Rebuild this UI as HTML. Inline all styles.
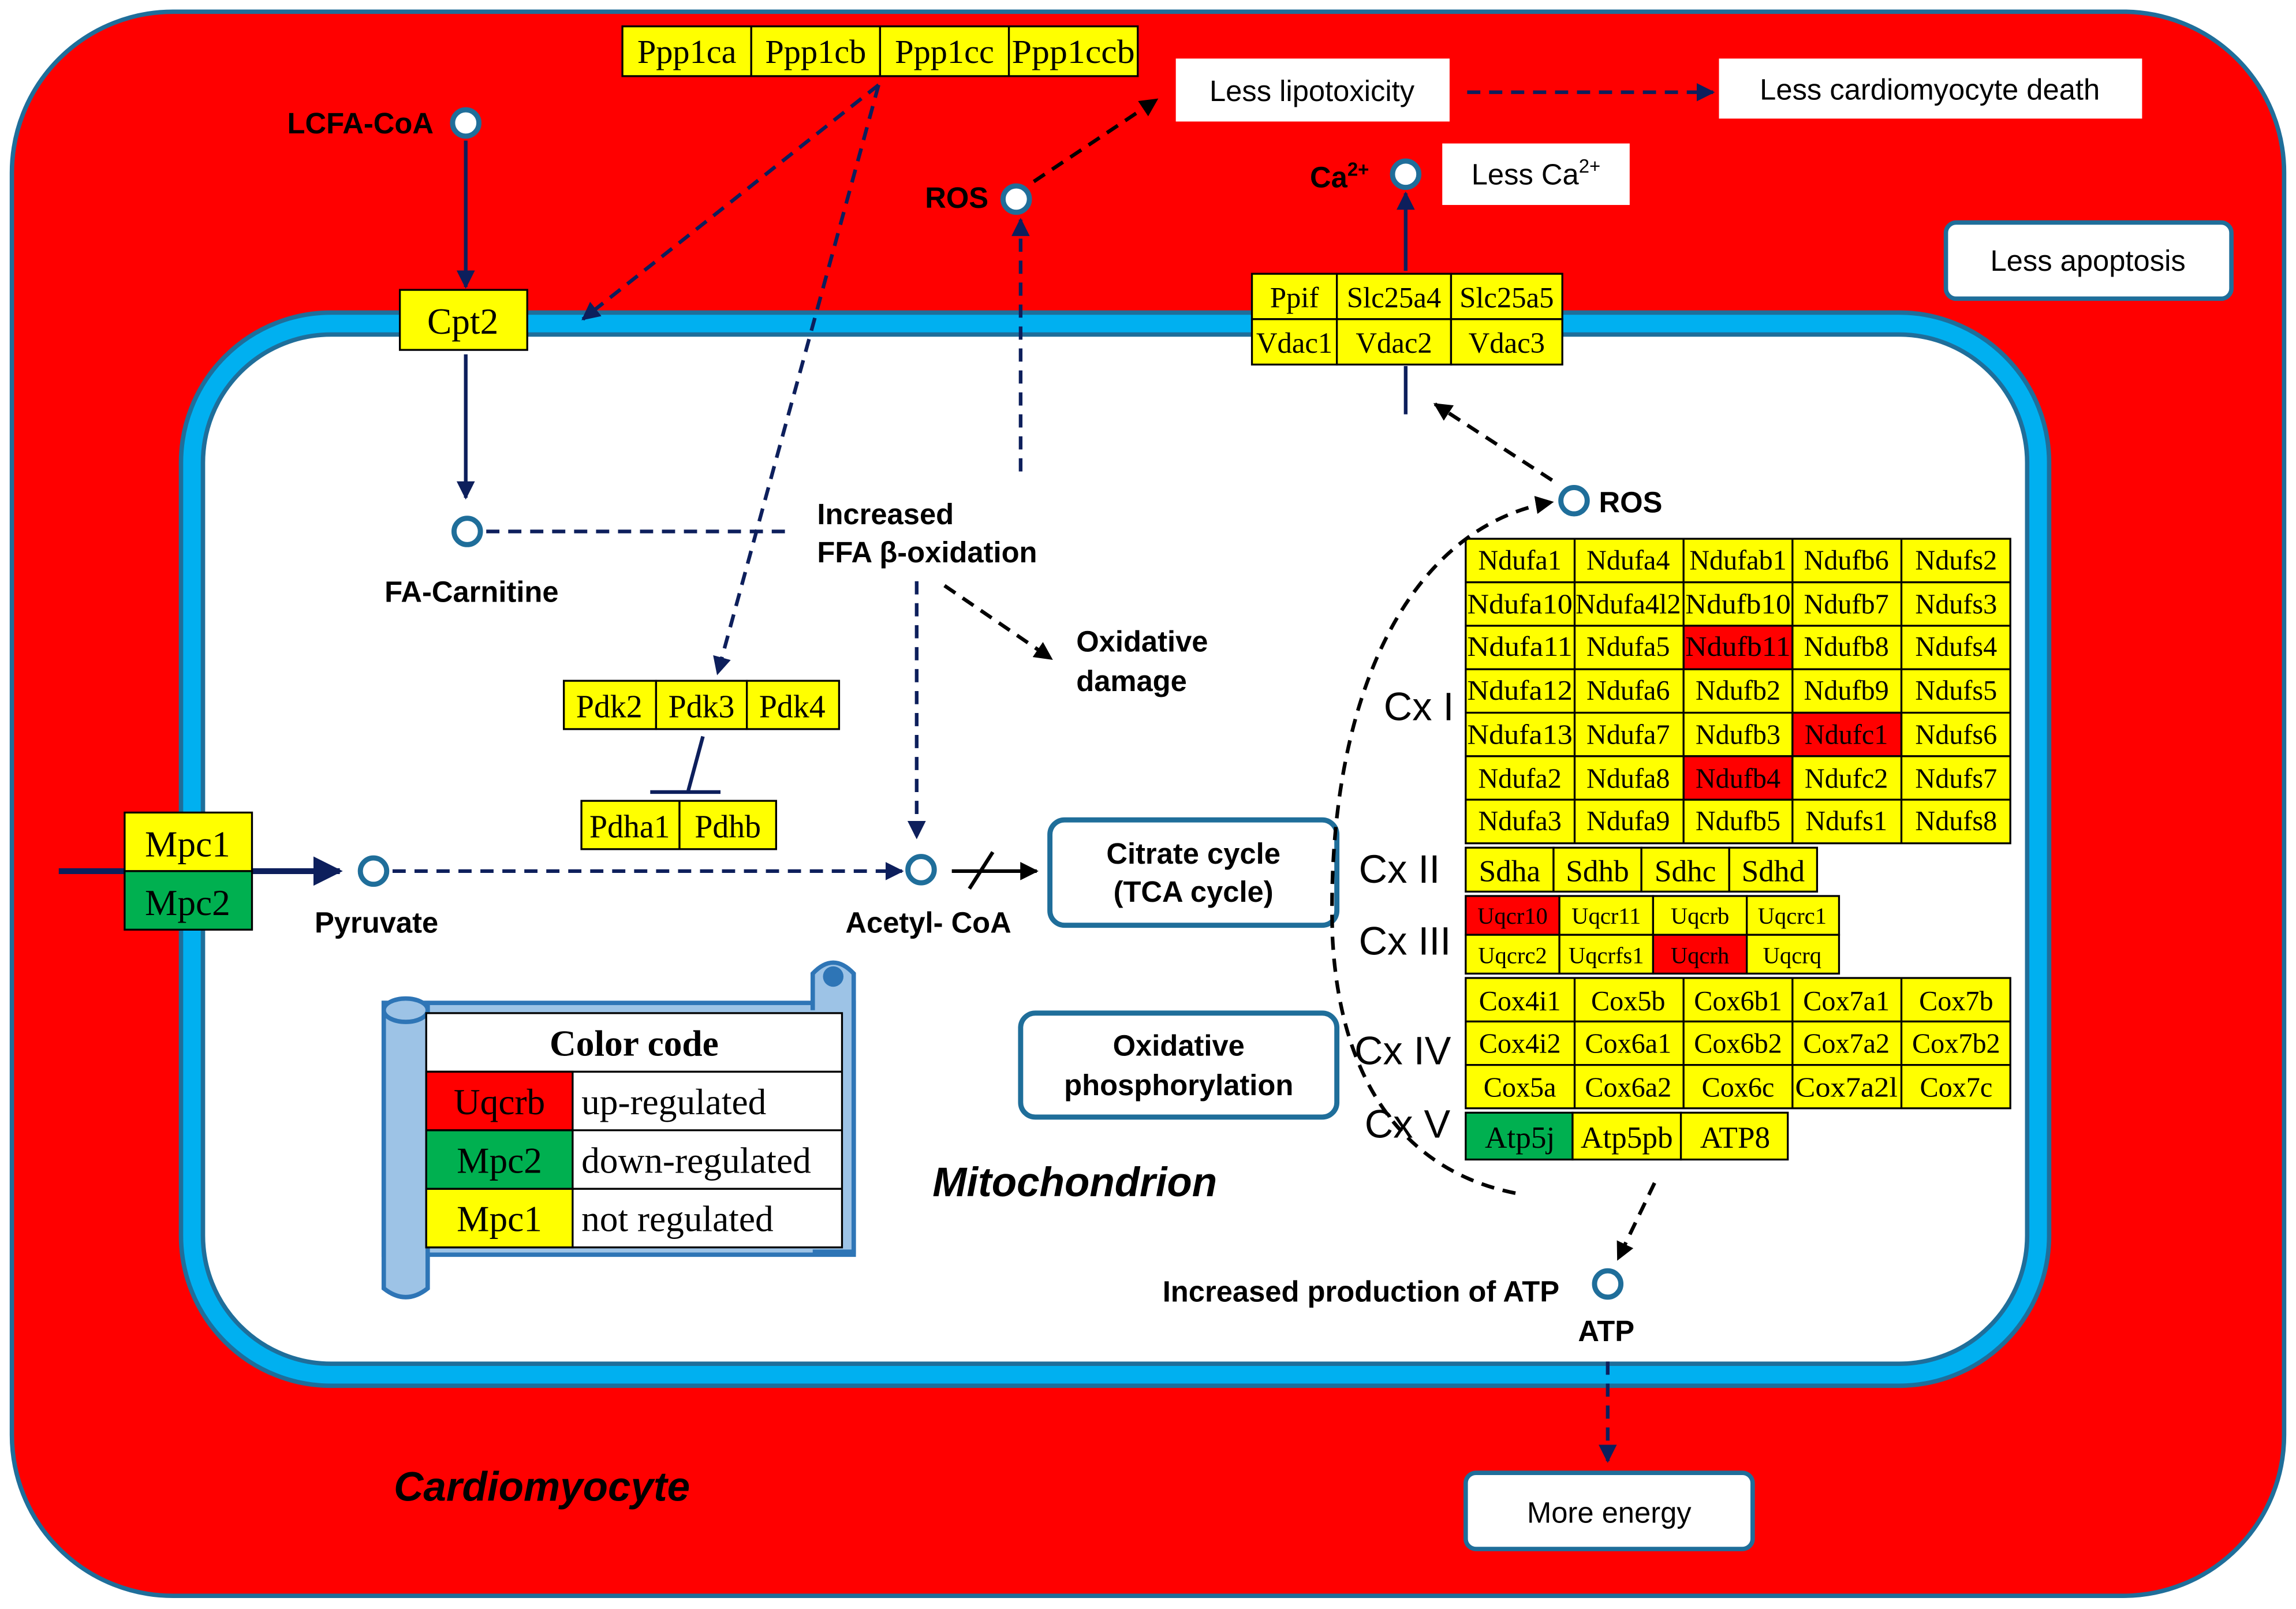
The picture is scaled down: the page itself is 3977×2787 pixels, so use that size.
<!DOCTYPE html>
<html><head><meta charset="utf-8"><style>
html,body{margin:0;padding:0;background:#fff}
svg{display:block}
.g{font-family:"Liberation Serif",serif;fill:#000;text-anchor:middle}
.s{font-family:"Liberation Sans",sans-serif;font-weight:bold;fill:#000}
.n{font-family:"Liberation Sans",sans-serif;fill:#000}
.y{fill:#FFFF00;stroke:#000;stroke-width:1.3}
.r{fill:#FF0000;stroke:#000;stroke-width:1.3}
.gr{fill:#00B050;stroke:#000;stroke-width:1.3}
.c{fill:#fff;stroke:#1F6E9A;stroke-width:3.5}
.d{stroke:#0D1F5C;stroke-width:2.5;stroke-dasharray:9,6;fill:none}
.k{stroke:#000;stroke-width:2.5;stroke-dasharray:9,6;fill:none}
</style></head><body>
<svg width="3977" height="2787" viewBox="0 0 1568 1099" xmlns="http://www.w3.org/2000/svg">
<defs>
<marker id="an" viewBox="0 0 10 10" refX="9" refY="5" markerWidth="5" markerHeight="5" orient="auto-start-reverse"><path d="M0,0L10,5L0,10z" fill="#0D1F5C"/></marker>
<marker id="ak" viewBox="0 0 10 10" refX="9" refY="5" markerWidth="5" markerHeight="5" orient="auto-start-reverse"><path d="M0,0L10,5L0,10z" fill="#000"/></marker>
</defs>
<rect width="1568" height="1099" fill="#fff"/>
<rect x="8" y="8" width="1552" height="1082" rx="110" fill="#FF0000" stroke="#1F6E9A" stroke-width="3"/>
<rect x="131" y="221" width="1261" height="718" rx="95" fill="#fff" stroke="#1F6E9A" stroke-width="18"/>
<rect x="131" y="221" width="1261" height="718" rx="95" fill="none" stroke="#00B0F0" stroke-width="12"/>

<!-- Ppp1 -->
<rect class="y" x="425" y="18" width="88" height="34"/><rect class="y" x="513" y="18" width="88" height="34"/><rect class="y" x="601" y="18" width="88" height="34"/><rect class="y" x="689" y="18" width="88" height="34"/>
<g class="g" font-size="23"><text x="469" y="43">Ppp1ca</text><text x="557" y="43">Ppp1cb</text><text x="645" y="43">Ppp1cc</text><text x="733" y="43" textLength="84" lengthAdjust="spacingAndGlyphs">Ppp1ccb</text></g>

<!-- Cpt2 -->
<rect class="y" x="273" y="198" width="87" height="41"/><text class="g" x="316" y="228" font-size="25">Cpt2</text>

<!-- Ppif -->
<rect class="y" x="855" y="187" width="58" height="31"/><rect class="y" x="913" y="187" width="78" height="31"/><rect class="y" x="991" y="187" width="76" height="31"/>
<rect class="y" x="855" y="218" width="58" height="31"/><rect class="y" x="913" y="218" width="78" height="31"/><rect class="y" x="991" y="218" width="76" height="31"/>
<g class="g" font-size="20"><text x="884" y="210">Ppif</text><text x="952" y="210">Slc25a4</text><text x="1029" y="210">Slc25a5</text><text x="884" y="241">Vdac1</text><text x="952" y="241">Vdac2</text><text x="1029" y="241">Vdac3</text></g>

<!-- Pdk -->
<rect class="y" x="385" y="465" width="63" height="33"/><rect class="y" x="448" y="465" width="62" height="33"/><rect class="y" x="510" y="465" width="63" height="33"/>
<g class="g" font-size="22"><text x="416" y="490">Pdk2</text><text x="479" y="490">Pdk3</text><text x="541" y="490">Pdk4</text></g>
<rect class="y" x="397" y="547" width="67" height="33"/><rect class="y" x="464" y="547" width="66" height="33"/>
<g class="g" font-size="22"><text x="430" y="572">Pdha1</text><text x="497" y="572">Pdhb</text></g>
<line x1="480" y1="503" x2="470" y2="540" stroke="#0D1F5C" stroke-width="2.5"/><line x1="444" y1="541" x2="492" y2="541" stroke="#0D1F5C" stroke-width="2.5"/>

<!-- Mpc -->
<line x1="40" y1="595" x2="232" y2="595" stroke="#0D1F5C" stroke-width="4" marker-end="url(#an)"/>
<rect class="y" x="85" y="555" width="87" height="40"/><rect class="gr" x="85" y="595" width="87" height="40"/>
<g class="g" font-size="25"><text x="128" y="585">Mpc1</text><text x="128" y="625">Mpc2</text></g>

<!-- Complex I -->
<g>
<rect class="y" x="1001" y="368" width="372" height="208"/>
<rect class="r" x="1149.8" y="427.4" width="74.4" height="29.7"/>
<rect class="r" x="1224.2" y="486.8" width="74.4" height="29.7"/>
<rect class="r" x="1149.8" y="516.5" width="74.4" height="29.7"/>
<g stroke="#000" stroke-width="1.3">
<line x1="1075.4" y1="368" x2="1075.4" y2="576"/><line x1="1149.8" y1="368" x2="1149.8" y2="576"/><line x1="1224.2" y1="368" x2="1224.2" y2="576"/><line x1="1298.6" y1="368" x2="1298.6" y2="576"/>
<line x1="1001" y1="397.7" x2="1373" y2="397.7"/><line x1="1001" y1="427.4" x2="1373" y2="427.4"/><line x1="1001" y1="457.1" x2="1373" y2="457.1"/><line x1="1001" y1="486.8" x2="1373" y2="486.8"/><line x1="1001" y1="516.5" x2="1373" y2="516.5"/><line x1="1001" y1="546.2" x2="1373" y2="546.2"/>
</g>
<g class="g" font-size="19">
<text x="1038" y="389">Ndufa1</text><text x="1112" y="389">Ndufa4</text><text x="1187" y="389">Ndufab1</text><text x="1261" y="389">Ndufb6</text><text x="1336" y="389">Ndufs2</text>
<text x="1038" y="419" textLength="72" lengthAdjust="spacingAndGlyphs">Ndufa10</text><text x="1112" y="419" textLength="72" lengthAdjust="spacingAndGlyphs">Ndufa4l2</text><text x="1187" y="419" textLength="72" lengthAdjust="spacingAndGlyphs">Ndufb10</text><text x="1261" y="419">Ndufb7</text><text x="1336" y="419">Ndufs3</text>
<text x="1038" y="448" textLength="72" lengthAdjust="spacingAndGlyphs">Ndufa11</text><text x="1112" y="448">Ndufa5</text><text x="1187" y="448" textLength="72" lengthAdjust="spacingAndGlyphs">Ndufb11</text><text x="1261" y="448">Ndufb8</text><text x="1336" y="448">Ndufs4</text>
<text x="1038" y="478" textLength="72" lengthAdjust="spacingAndGlyphs">Ndufa12</text><text x="1112" y="478">Ndufa6</text><text x="1187" y="478">Ndufb2</text><text x="1261" y="478">Ndufb9</text><text x="1336" y="478">Ndufs5</text>
<text x="1038" y="508" textLength="72" lengthAdjust="spacingAndGlyphs">Ndufa13</text><text x="1112" y="508">Ndufa7</text><text x="1187" y="508">Ndufb3</text><text x="1261" y="508">Ndufc1</text><text x="1336" y="508">Ndufs6</text>
<text x="1038" y="538">Ndufa2</text><text x="1112" y="538">Ndufa8</text><text x="1187" y="538">Ndufb4</text><text x="1261" y="538">Ndufc2</text><text x="1336" y="538">Ndufs7</text>
<text x="1038" y="567">Ndufa3</text><text x="1112" y="567">Ndufa9</text><text x="1187" y="567">Ndufb5</text><text x="1261" y="567">Ndufs1</text><text x="1336" y="567">Ndufs8</text>
</g>
</g>

<!-- Complex II -->
<rect class="y" x="1001" y="579" width="60" height="30"/><rect class="y" x="1061" y="579" width="60" height="30"/><rect class="y" x="1121" y="579" width="60" height="30"/><rect class="y" x="1181" y="579" width="60" height="30"/>
<g class="g" font-size="21"><text x="1031" y="602">Sdha</text><text x="1091" y="602">Sdhb</text><text x="1151" y="602">Sdhc</text><text x="1211" y="602">Sdhd</text></g>

<!-- Complex III -->
<rect class="r" x="1001" y="612" width="64" height="26.5"/><rect class="y" x="1065" y="612" width="64" height="26.5"/><rect class="y" x="1129" y="612" width="64" height="26.5"/><rect class="y" x="1193" y="612" width="63" height="26.5"/>
<rect class="y" x="1001" y="638.5" width="64" height="26.5"/><rect class="y" x="1065" y="638.5" width="64" height="26.5"/><rect class="r" x="1129" y="638.5" width="64" height="26.5"/><rect class="y" x="1193" y="638.5" width="63" height="26.5"/>
<g class="g" font-size="16"><text x="1033" y="631">Uqcr10</text><text x="1097" y="631">Uqcr11</text><text x="1161" y="631">Uqcrb</text><text x="1224" y="631">Uqcrc1</text>
<text x="1033" y="658">Uqcrc2</text><text x="1097" y="658">Uqcrfs1</text><text x="1161" y="658">Uqcrh</text><text x="1224" y="658">Uqcrq</text></g>

<!-- Complex IV -->
<rect class="y" x="1001" y="668" width="372" height="89"/>
<g stroke="#000" stroke-width="1.3">
<line x1="1075.4" y1="668" x2="1075.4" y2="757"/><line x1="1149.8" y1="668" x2="1149.8" y2="757"/><line x1="1224.2" y1="668" x2="1224.2" y2="757"/><line x1="1298.6" y1="668" x2="1298.6" y2="757"/>
<line x1="1001" y1="697.7" x2="1373" y2="697.7"/><line x1="1001" y1="727.4" x2="1373" y2="727.4"/></g>
<g class="g" font-size="19">
<text x="1038" y="690">Cox4i1</text><text x="1112" y="690">Cox5b</text><text x="1187" y="690">Cox6b1</text><text x="1261" y="690">Cox7a1</text><text x="1336" y="690">Cox7b</text>
<text x="1038" y="719">Cox4i2</text><text x="1112" y="719">Cox6a1</text><text x="1187" y="719">Cox6b2</text><text x="1261" y="719">Cox7a2</text><text x="1336" y="719">Cox7b2</text>
<text x="1038" y="749">Cox5a</text><text x="1112" y="749">Cox6a2</text><text x="1187" y="749">Cox6c</text><text x="1261" y="749" textLength="70" lengthAdjust="spacingAndGlyphs">Cox7a2l</text><text x="1336" y="749">Cox7c</text></g>

<!-- Complex V -->
<rect class="gr" x="1001" y="760" width="73" height="32"/><rect class="y" x="1074" y="760" width="74" height="32"/><rect class="y" x="1148" y="760" width="73" height="32"/>
<g class="g" font-size="21"><text x="1038" y="784">Atp5j</text><text x="1111" y="784">Atp5pb</text><text x="1185" y="784">ATP8</text></g>

<g class="n" font-size="27"><text x="945" y="492">Cx I</text><text x="928" y="603">Cx II</text><text x="928" y="652">Cx III</text><text x="925" y="727">Cx IV</text><text x="932" y="777">Cx V</text></g>

<!-- white boxes -->
<rect x="803" y="40" width="187" height="43" fill="#fff"/><text class="n" x="896" y="69" font-size="20" text-anchor="middle">Less lipotoxicity</text>
<rect x="1174" y="40" width="289" height="41" fill="#fff"/><text class="n" x="1318" y="68" font-size="20" text-anchor="middle">Less cardiomyocyte death</text>
<rect x="985" y="98" width="128" height="42" fill="#fff"/><text class="n" x="1049" y="126" font-size="20" text-anchor="middle">Less Ca<tspan font-size="13" dy="-8">2+</tspan></text>
<rect x="1329" y="152" width="195" height="52" rx="7" fill="#fff" stroke="#1F6E9A" stroke-width="3"/><text class="n" x="1426" y="185" font-size="20" text-anchor="middle">Less apoptosis</text>
<rect x="1001" y="1006" width="196" height="52" rx="7" fill="#fff" stroke="#1F6E9A" stroke-width="3"/><text class="n" x="1099" y="1040" font-size="20" text-anchor="middle">More energy</text>
<rect x="717" y="560" width="196" height="72" rx="10" fill="#fff" stroke="#1F6E9A" stroke-width="3.5"/>
<text class="s" x="815" y="590" font-size="20" text-anchor="middle">Citrate cycle</text><text class="s" x="815" y="616" font-size="20" text-anchor="middle">(TCA cycle)</text>
<rect x="697" y="692" width="216" height="71" rx="10" fill="#fff" stroke="#1F6E9A" stroke-width="3.5"/>
<text class="s" x="805" y="721" font-size="20" text-anchor="middle">Oxidative</text><text class="s" x="805" y="748" font-size="20" text-anchor="middle">phosphorylation</text>

<!-- legend scroll -->
<rect x="262" y="685" width="321" height="172" fill="#9DC3E6" stroke="#2E75B6" stroke-width="3"/>
<path d="M262,685 L262,880 Q277,892 292,880 L292,685 Z" fill="#9DC3E6" stroke="#2E75B6" stroke-width="3"/>
<path d="M555,690 L555,665 Q569,650 583,665 L583,855 L555,855" fill="#9DC3E6" stroke="#2E75B6" stroke-width="3"/>
<ellipse cx="277" cy="690" rx="15" ry="8" fill="#9DC3E6" stroke="#2E75B6" stroke-width="3"/>
<circle cx="569" cy="667" r="7" fill="#2E75B6"/>
<rect x="291" y="692" width="284" height="160" fill="#fff" stroke="#000" stroke-width="1.3"/>
<rect class="r" x="291" y="732" width="100" height="40"/><rect class="gr" x="291" y="772" width="100" height="40"/><rect class="y" x="291" y="812" width="100" height="40"/>
<g stroke="#000" stroke-width="1.3"><line x1="291" y1="732" x2="575" y2="732"/><line x1="291" y1="772" x2="575" y2="772"/><line x1="291" y1="812" x2="575" y2="812"/></g>
<text class="g" x="433" y="721" font-size="25" font-weight="bold">Color code</text>
<g font-family="Liberation Serif,serif" font-size="25"><text x="341" y="761" text-anchor="middle">Uqcrb</text><text x="341" y="801" text-anchor="middle">Mpc2</text><text x="341" y="841" text-anchor="middle">Mpc1</text>
<text x="397" y="761">up-regulated</text><text x="397" y="801">down-regulated</text><text x="397" y="841">not regulated</text></g>

<!-- circles -->
<circle class="c" cx="318" cy="84" r="9"/><circle class="c" cx="694" cy="136" r="9"/><circle class="c" cx="960" cy="119" r="9"/>
<circle class="c" cx="319" cy="363" r="9"/><circle class="c" cx="255" cy="595" r="9"/><circle class="c" cx="629" cy="594" r="9"/>
<circle class="c" cx="1075" cy="342" r="9"/><circle class="c" cx="1098" cy="877" r="9"/>

<!-- labels -->
<text class="s" x="296" y="91" font-size="20" text-anchor="end">LCFA-CoA</text>
<text class="s" x="675" y="142" font-size="20" text-anchor="end">ROS</text>
<text class="s" x="935" y="128" font-size="20" text-anchor="end">Ca<tspan font-size="13" dy="-8">2+</tspan></text>
<text class="s" x="1092" y="350" font-size="20">ROS</text>
<text class="s" x="322" y="411" font-size="20" text-anchor="middle">FA-Carnitine</text>
<text class="s" x="257" y="637" font-size="20" text-anchor="middle">Pyruvate</text>
<text class="s" x="634" y="637" font-size="20" text-anchor="middle">Acetyl- CoA</text>
<text class="s" x="558" y="358" font-size="20">Increased</text><text class="s" x="558" y="384" font-size="20">FFA β-oxidation</text>
<text class="s" x="735" y="445" font-size="20">Oxidative</text><text class="s" x="735" y="472" font-size="20">damage</text>
<text class="s" x="1065" y="889" font-size="20" text-anchor="end">Increased  production of ATP</text>
<text class="s" x="1097" y="916" font-size="20" text-anchor="middle">ATP</text>
<text class="s" x="734" y="817" font-size="28" font-style="italic" text-anchor="middle">Mitochondrion</text>
<text class="s" x="370" y="1025" font-size="28" font-style="italic" text-anchor="middle">Cardiomyocyte</text>

<!-- connectors -->
<line x1="318" y1="96" x2="318" y2="196" stroke="#0D1F5C" stroke-width="2.5" marker-end="url(#an)"/>
<line x1="318" y1="242" x2="318" y2="340" stroke="#0D1F5C" stroke-width="2.5" marker-end="url(#an)"/>
<line class="d" x1="600" y1="58" x2="398" y2="218" marker-end="url(#an)"/>
<line class="d" x1="600" y1="58" x2="490" y2="460" marker-end="url(#an)"/>
<line class="d" x1="332" y1="363" x2="540" y2="363"/>
<line class="d" x1="697" y1="322" x2="697" y2="150" marker-end="url(#an)"/>
<line class="k" x1="706" y1="124" x2="790" y2="68" marker-end="url(#ak)"/>
<line class="d" x1="1002" y1="63" x2="1170" y2="63" marker-end="url(#an)"/>
<line x1="960" y1="185" x2="960" y2="132" stroke="#0D1F5C" stroke-width="2.5" marker-end="url(#an)"/>
<line x1="960" y1="250" x2="960" y2="283" stroke="#0D1F5C" stroke-width="2.5"/>
<line class="k" x1="1060" y1="328" x2="980" y2="276" marker-end="url(#ak)"/>
<line class="k" x1="645" y1="400" x2="718" y2="450" marker-end="url(#ak)"/>
<line class="d" x1="626" y1="397" x2="626" y2="572" marker-end="url(#an)"/>
<line class="d" x1="268" y1="595" x2="616" y2="595" marker-end="url(#an)"/>
<line x1="650" y1="595" x2="708" y2="595" stroke="#000" stroke-width="2.5" marker-end="url(#ak)"/>
<line x1="662" y1="607" x2="678" y2="582" stroke="#000" stroke-width="2.5"/>
<path class="k" d="M1035,815 C960,800 915,740 910,640 C905,480 960,360 1060,343" marker-end="url(#ak)"/>
<line class="k" x1="1130" y1="808" x2="1105" y2="860" marker-end="url(#ak)"/>
<line class="d" x1="1098" y1="930" x2="1098" y2="998" marker-end="url(#an)"/>
</svg>
</body></html>
